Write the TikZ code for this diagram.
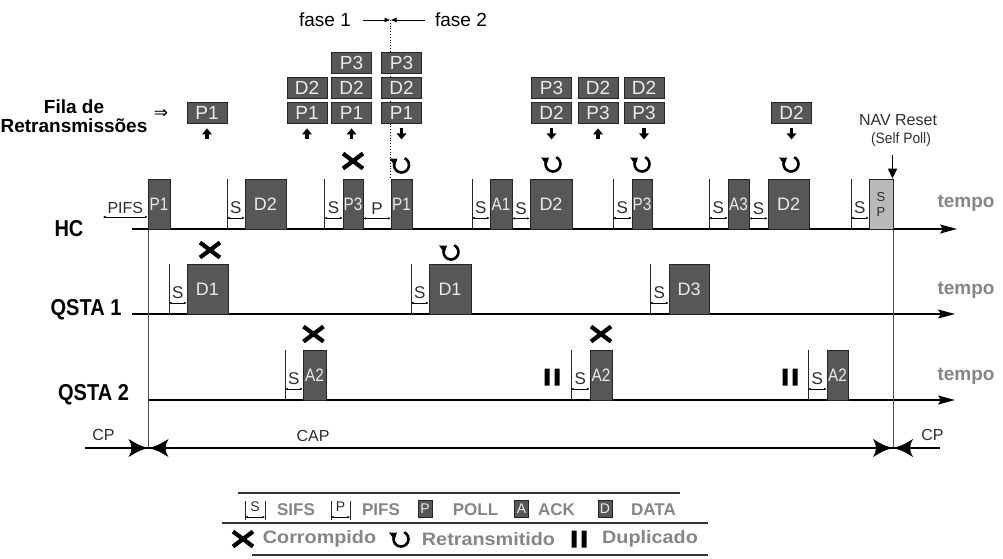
\documentclass[tikz,border=0pt]{standalone}
\usepackage{fontspec}
\setmainfont{Liberation Sans}
\newfontfamily\symfont{DejaVu Sans}
\usepackage{graphicx}
\usetikzlibrary{arrows.meta}
\definecolor{pktfill}{HTML}{575757}
\definecolor{pktline}{HTML}{252525}
\definecolor{pkttext}{HTML}{EBEBEB}
\definecolor{greytext}{HTML}{858585}
\definecolor{spfill}{HTML}{B9B9B9}
\definecolor{inktext}{HTML}{2E2E2E}
\newcommand\fs[1]{\fontsize{#1}{#1}\selectfont}
\newcommand\nrw[1]{\scalebox{0.85}[1]{#1}}
\newcommand\wid[1]{\scalebox{1.1}[1]{#1}}
\tikzset{
  pkt/.style={draw=pktline, line width=0.8pt, fill=pktfill, text=pkttext, font=\fs{18}, inner sep=0pt, minimum height=50pt},
  qbox/.style={pkt, minimum width=40pt, minimum height=21pt, font=\fs{19}},
  legbox/.style={pkt, minimum width=14pt, minimum height=17pt, font=\fs{14}},
  tickline/.style={line width=0.9pt, draw=black!85},
  gaparrow/.style={line width=0.7pt, {Latex[length=2.5pt,width=2.5pt]}-{Latex[length=2.5pt,width=2.5pt]}},
  gaplabel/.style={font=\fs{17}, text=inktext, inner sep=0pt},
  axis/.style={line width=1.4pt, -{Stealth[length=17pt,width=9pt,inset=3pt]}},
  rowlabel/.style={font=\bfseries\fs{23}, inner sep=0pt},
  tempolabel/.style={font=\bfseries\fs{19}, text=greytext, inner sep=0pt},
  plainlabel/.style={font=\fs{16}, text=inktext, inner sep=0pt},
  leglabel/.style={font=\bfseries\fs{17}, text=greytext, inner sep=0pt},
  legline/.style={line width=1.1pt, draw=black!80},
  guide/.style={line width=0.9pt, draw=black!70},
  cpline/.style={line width=1.2pt},
  bowtie/.pic={\fill (0,0) .. controls (-9,-2.5) .. (-20,-9) .. controls (-16,-3) and (-16,3) .. (-20,9) .. controls (-9,2.5) .. (0,0) -- cycle;
               \fill (0,0) .. controls (9,-2.5) .. (20,-9) .. controls (16,-3) and (16,3) .. (20,9) .. controls (9,2.5) .. (0,0) -- cycle;},
  uparrow/.pic={\fill (-1.9,5.5) rectangle (1.9,-0.5); \fill (-5,0.5) -- (5,0.5) -- (0,-5.5) -- cycle;},
  downarrow/.pic={\fill (-1.9,-5.5) rectangle (1.9,0.5); \fill (-5,-0.5) -- (5,-0.5) -- (0,5.5) -- cycle;},
  xmark/.pic={\draw[line width=4.2pt] (-10,-7.5) -- (10,7.5) (10,-7.5) -- (-10,7.5);},
  retx/.pic={\draw[line width=2.6pt, -{Triangle[length=6pt,width=9pt]}] (65:7.5pt) arc[start angle=65, end angle=-235, radius=7.5pt];},
  dupmark/.pic={\fill (-7.5,-8.5) rectangle (-2.5,8.5) (2.5,-8.5) rectangle (7.5,8.5);},
}
\newcommand\sgap[5]{%
  \coordinate (#1top) at (#2,#3);
  \coordinate (#1bot) at (#2,#4);
  \coordinate (#1arr) at (#2,#4-11);
  \draw[tickline] (#1top) -- (#1bot);
  \draw[gaparrow] (#1arr) -- (#1arr -| #5.west) node[midway, above=3.5pt, gaplabel] (#1lab) {S};
}
\newcommand\sbetween[4]{%
  \coordinate (#1arr) at ([yshift=11pt]#2.south east);
  \draw[gaparrow] (#1arr) -- (#1arr -| #3.west) node[midway, above=3.5pt, gaplabel] (#1lab) {#4};
}
\begin{document}
\begin{tikzpicture}[x=1pt,y=-1pt]
\useasboundingbox (0,0) rectangle (1003,558);

% axes
\coordinate (hcO) at (132,229); \coordinate (hcE) at (957,229);
\coordinate (q1O) at (132,314); \coordinate (q1E) at (955,314);
\coordinate (q2O) at (149,400); \coordinate (q2E) at (955,400);
\draw[axis] (hcO) -- (hcE);
\draw[axis] (q1O) -- (q1E);
\draw[axis] (q2O) -- (q2E);

% guides
\coordinate (vLt) at (148.5,229); \coordinate (vLb) at (148.5,448);
\coordinate (vRt) at (893,229); \coordinate (vRb) at (893,448);
\draw[guide] (vLt) -- (vLb);
\draw[guide] (vRt) -- (vRb);

% CP / CAP
\coordinate (cpA) at (85,448); \coordinate (capL) at (148.5,448);
\coordinate (capR) at (893,448); \coordinate (cpB) at (940,448);
\draw[cpline] (cpA) -- (capL);
\draw[cpline] (capL) -- (capR);
\draw[cpline] (capR) -- (cpB);
\pic at (capL) {bowtie};
\pic at (capR) {bowtie};
\node[plainlabel] (cp1) at (103.5,435) {CP};
\node[plainlabel] (cp2) at (932.5,435) {CP};
\node[plainlabel] (cap) at (313,436) {CAP};

% row labels
\node[rowlabel] (lhc) at (69,228.5) {\scalebox{0.87}[1]{HC}};
\node[rowlabel] (lq1) at (86,310) {\scalebox{0.87}[1]{QSTA 1}};
\node[rowlabel] (lq2) at (93.5,395) {\scalebox{0.87}[1]{QSTA 2}};
\node[tempolabel] (tp1) at (966,203) {tempo};
\node[tempolabel] (tp2) at (966,290) {tempo};
\node[tempolabel] (tp3) at (966,376) {tempo};

% queue label
\node[font=\bfseries\fontsize{19}{19}\selectfont, align=center, inner sep=0pt] (fila) at (74,116.5) {Fila de\\Retransmissões};
\node[font=\symfont\fs{17}, inner sep=0pt] (filaarr) at (161,114) {⇒};

% HC packets
\node[pkt, minimum width=22pt] (hP1a) at (159,204) {\nrw{P1}};
\node[pkt, minimum width=41pt] (hD2a) at (265.5,204) {D2};
\node[pkt, minimum width=20pt] (hP3a) at (353,204) {\nrw{P3}};
\node[pkt, minimum width=21pt] (hP1b) at (401.5,204) {\nrw{P1}};
\node[pkt, minimum width=22pt] (hA1) at (501,204) {\nrw{A1}};
\node[pkt, minimum width=42pt] (hD2b) at (551,204) {D2};
\node[pkt, minimum width=20pt] (hP3b) at (642,204) {\nrw{P3}};
\node[pkt, minimum width=21pt] (hA3) at (738.5,204) {\nrw{A3}};
\node[pkt, minimum width=41pt] (hD2c) at (788.5,204) {D2};
\node[pkt, minimum width=24pt, fill=spfill, text=inktext, font=\fontsize{13}{15}\selectfont, align=center] (hSP) at (881,204) {S\\P};

\coordinate (pifsA) at (103,217);
\draw[gaparrow] (pifsA) -- (pifsA -| hP1a.west) node[midway, above=3pt, gaplabel, font=\fs{16}] (pifslab) {PIFS};
\sgap{g1}{227}{179}{229}{hD2a}
\sgap{g2}{324.5}{179}{229}{hP3a}
\sbetween{gp}{hP3a}{hP1b}{P}
\sgap{g3}{472}{179}{229}{hA1}
\sbetween{g4}{hA1}{hD2b}{S}
\sgap{g5}{613}{179}{229}{hP3b}
\sgap{g6}{709}{179}{229}{hA3}
\sbetween{g7}{hA3}{hD2c}{S}
\sgap{g8}{851}{179}{229}{hSP}

% QSTA 1 packets
\node[pkt, minimum width=41pt] (aD1a) at (207.5,289) {D1};
\node[pkt, minimum width=42pt] (aD1b) at (450,289) {D1};
\node[pkt, minimum width=40pt] (aD3) at (689,289) {D3};
\sgap{k1}{169}{264}{314}{aD1a}
\sgap{k2}{411}{264}{314}{aD1b}
\sgap{k3}{650}{264}{314}{aD3}

% QSTA 2 packets
\node[pkt, minimum width=23pt] (bA2a) at (314.5,375) {\nrw{A2}};
\node[pkt, minimum width=22pt] (bA2b) at (601,375) {\nrw{A2}};
\node[pkt, minimum width=21pt] (bA2c) at (837.5,375) {\nrw{A2}};
\sgap{m1}{285}{350}{400}{bA2a}
\sgap{m2}{571}{350}{400}{bA2b}
\sgap{m3}{808}{350}{400}{bA2c}

% phase marker
\coordinate (phase) at (390.5,20);
\draw[dotted, line width=0.8pt] (phase) -- (phase |- hP1b.north);
\node[font=\fs{19}, inner sep=0pt] (f1) at (325,20) {fase 1};
\node[font=\fs{19}, inner sep=0pt] (f2) at (461,20) {fase 2};
\draw[line width=0.9pt, -{Latex[length=6pt,width=5pt]}] ([xshift=12pt]f1.east) -- (phase);
\draw[line width=0.9pt, -{Latex[length=6pt,width=5pt]}] ([xshift=-10pt]f2.west) -- (phase);

% retransmission queues
\node[qbox] (qa3) at (207,112.5) {P1};
\node[qbox] (qb2) at (307,87.5) {D2};
\node[qbox] (qb3) at (307,112.5) {P1};
\node[qbox] (qc1) at (351.5,62.5) {P3};
\node[qbox] (qc2) at (351.5,87.5) {D2};
\node[qbox] (qc3) at (351.5,112.5) {P1};
\node[qbox] (qd1) at (401.5,62.5) {P3};
\node[qbox] (qd2) at (401.5,87.5) {D2};
\node[qbox] (qd3) at (401.5,112.5) {P1};
\node[qbox] (qe2) at (551.5,87.5) {P3};
\node[qbox] (qe3) at (551.5,112.5) {D2};
\node[qbox] (qf2) at (598,87.5) {D2};
\node[qbox] (qf3) at (598,112.5) {P3};
\node[qbox] (qg2) at (644,87.5) {D2};
\node[qbox] (qg3) at (644,112.5) {P3};
\node[qbox] (qh3) at (791.5,112.5) {D2};
\foreach \q in {qa3,qb3,qc3,qf3}
  \pic at ([yshift=-10.5pt]\q.south) {uparrow};
\foreach \q in {qd3,qe3,qg3,qh3}
  \pic at ([yshift=-10.5pt]\q.south) {downarrow};

% state marks
\pic at (353,161) {xmark};
\pic at (401.5,165) {retx};
\pic at (553,164) {retx};
\pic at (642,164) {retx};
\pic at (791,164) {retx};
\pic at (210,250) {xmark};
\pic at (451,252) {retx};
\pic at (313.5,334) {xmark};
\pic at (601,334) {xmark};
\pic at (552,377) {dupmark};
\pic at (790,377) {dupmark};

% NAV reset
\node[font=\fs{16}, text=inktext, inner sep=0pt] (nav) at (898,120) {NAV Reset};
\node[font=\fs{15}, text=inktext, inner sep=0pt] (selfpoll) at (901,140) {\scalebox{0.92}[1]{(Self Poll)}};
\coordinate (navtop) at (892.5,155);
\draw[line width=1.3pt, -{Triangle[length=10pt,width=9pt]}] (navtop) -- (navtop |- hSP.north);

% legend
\draw[legline] (238,493) -- (680,493);
\draw[legline] (222,523) -- (708,523);
\draw[legline] (252,555) -- (708,555);
\coordinate (lsA) at (245,501); \coordinate (lsB) at (265,501);
\draw[tickline] (lsA) -- ++(0,19);
\draw[tickline] (lsB) -- ++(0,19);
\draw[gaparrow] ([yshift=-16pt]lsA) -- ([yshift=-16pt]lsB);
\node[gaplabel, font=\fs{14}] (lsS) at (255,507) {S};
\node[leglabel] (lsifs) at (296,510) {SIFS};
\coordinate (lpA) at (331,501); \coordinate (lpB) at (350,501);
\draw[tickline] (lpA) -- ++(0,19);
\draw[tickline] (lpB) -- ++(0,19);
\draw[gaparrow] ([yshift=-16pt]lpA) -- ([yshift=-16pt]lpB);
\node[gaplabel, font=\fs{14}] (lpP) at (340.5,507) {P};
\node[leglabel] (lpifs) at (381,510) {PIFS};
\node[legbox] (lbP) at (425,508.5) {P};
\node[leglabel] (lpoll) at (475.5,510) {POLL};
\node[legbox] (lbA) at (521.5,508.5) {A};
\node[leglabel] (lack) at (556.5,510) {ACK};
\node[legbox] (lbD) at (605,508.5) {D};
\node[leglabel] (ldata) at (653.5,510) {DATA};
\pic at (243,539) {xmark};
\node[leglabel, font=\bfseries\fs{18}] (lcor) at (319.5,539) {\wid{Corrompido}};
\pic at (401,539) {retx};
\node[leglabel, font=\bfseries\fs{18}] (lret) at (488.5,539) {\wid{Retransmitido}};
\pic at (579,539) {dupmark};
\node[leglabel, font=\bfseries\fs{18}] (ldup) at (650,539) {\wid{Duplicado}};
\end{tikzpicture}
\end{document}
